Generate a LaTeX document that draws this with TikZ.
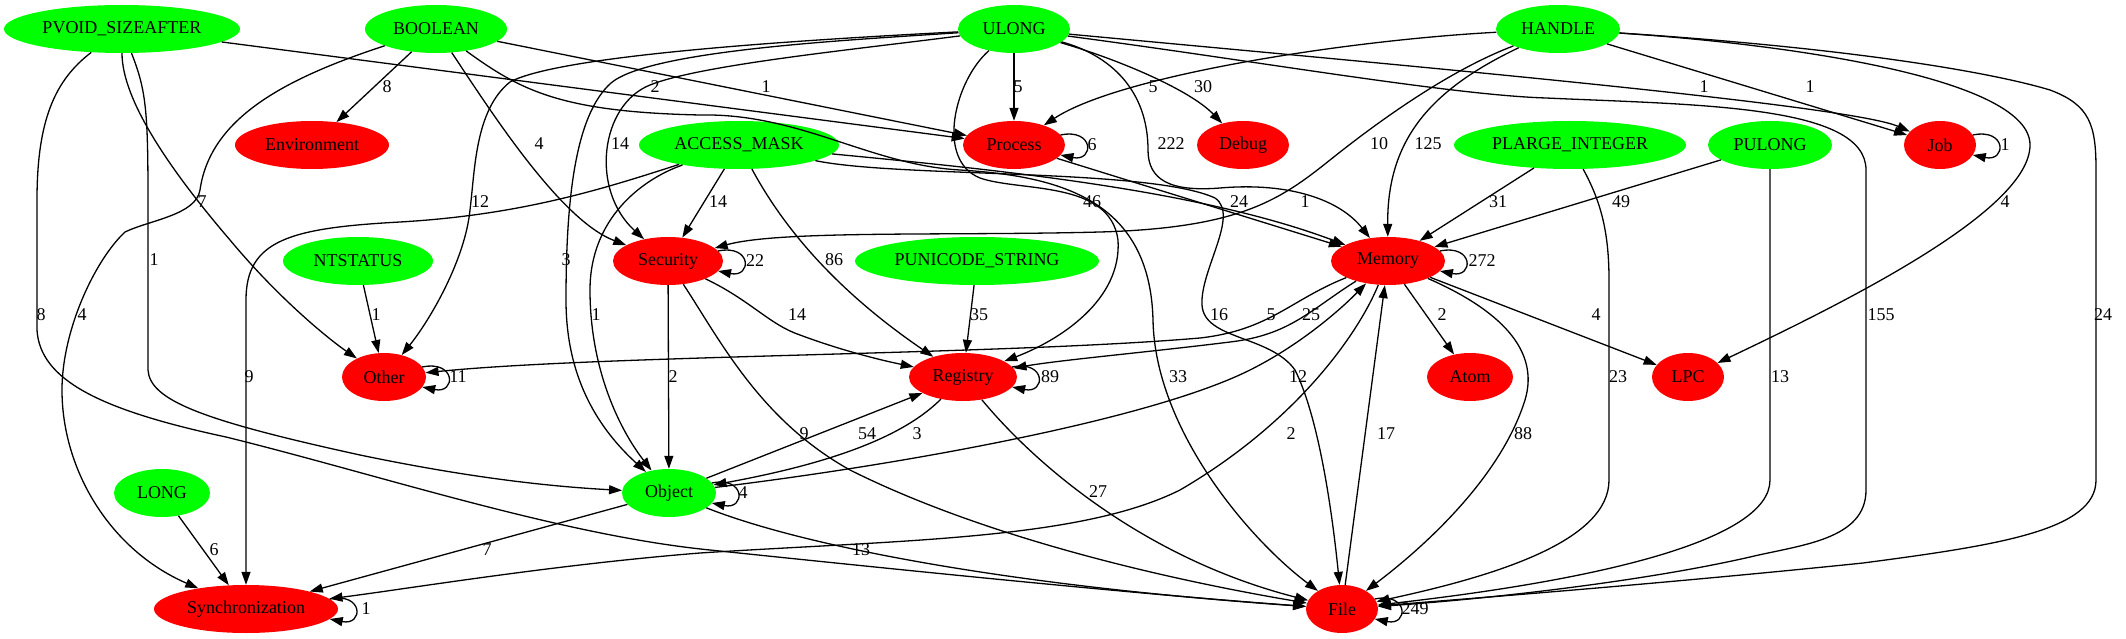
\documentclass[tikz,border=0pt]{standalone}
\usepackage{fontspec}
\setmainfont{Liberation Serif}
\usetikzlibrary{shapes.geometric,arrows.meta}
\definecolor{gcol}{RGB}{0,255,0}
\definecolor{rcol}{RGB}{255,0,0}
\newcommand{\myloop}[3]{% cx, cy, rx
  \draw[conn] ({#1+0.91*#3},{#2-10}) .. controls ({#1+0.91*#3+34},{#2-17}) and ({#1+0.91*#3+34},{#2+17}) .. ({#1+0.91*#3},{#2+10});}
\begin{document}
\begin{tikzpicture}[x=1pt,y=-1pt,
  tn/.style={ellipse, inner sep=0pt, minimum height=48pt, font=\fontsize{18}{21}\selectfont},
  gn/.style={tn, fill=gcol},
  rn/.style={tn, fill=rcol},
  conn/.style={line width=1.3pt, -{Triangle[length=13pt,width=9pt]}},
  lb/.style={inner sep=0pt, font=\fontsize{18}{21}\selectfont}]
\useasboundingbox (0,0) rectangle (2126,639);

% nodes
\node[gn, minimum width=236pt] (pv) at (122,29) {PVOID\_SIZEAFTER};
\node[gn, minimum width=142pt] (bo) at (436,29) {BOOLEAN};
\node[gn, minimum width=112pt] (ul) at (1014,29) {ULONG};
\node[gn, minimum width=124pt] (ha) at (1558,29) {HANDLE};
\node[rn, minimum width=154pt] (env) at (312,145) {Environment};
\node[gn, minimum width=200pt] (am) at (739,145) {ACCESS\_MASK};
\node[rn, minimum width=102pt] (pr) at (1014,145) {Process};
\node[rn, minimum width=92pt] (de) at (1243,145) {Debug};
\node[gn, minimum width=232pt] (pl) at (1570,145) {PLARGE\_INTEGER};
\node[gn, minimum width=124pt] (pu) at (1770,145) {PULONG};
\node[rn, minimum width=72pt] (job) at (1940,145) {Job};
\node[gn, minimum width=150pt] (nt) at (358,261) {NTSTATUS};
\node[rn, minimum width=110pt] (se) at (668,261) {Security};
\node[gn, minimum width=244pt] (pus) at (977,261) {PUNICODE\_STRING};
\node[rn, minimum width=114pt] (me) at (1388,261) {Memory};
\node[rn, minimum width=84pt] (ot) at (384,377) {Other};
\node[rn, minimum width=108pt] (re) at (963,377) {Registry};
\node[rn, minimum width=86pt] (atm) at (1470,377) {Atom};
\node[rn, minimum width=72pt] (lpc) at (1688,377) {LPC};
\node[gn, minimum width=96pt] (lo) at (162,493) {LONG};
\node[gn, minimum width=94pt] (ob) at (669,493) {Object};
\node[rn, minimum width=184pt] (sy) at (246,609) {Synchronization};
\node[rn, minimum width=72pt] (fi) at (1342,609) {File};

% BOOLEAN
\draw[conn] (bo) -- (env);
\draw[conn] (bo) .. controls (490,110) and (560,220) .. (se);
\draw[conn] (bo) -- (pr);
\draw[conn] (bo) .. controls (280,80) and (210,120) .. (200,190) .. controls (196,215) and (150,220) .. (125,232) .. controls (95,260) and (62,330) .. (62,390) .. controls (62,470) and (110,550) .. (sy);
\draw[conn] (bo) .. controls (520,90) and (560,112) .. (700,115) .. controls (800,113) and (870,165) .. (960,170) .. controls (1060,176) and (1150,200) .. (1153,320) .. controls (1155,430) and (1250,540) .. (fi);
% PVOID
\draw[conn] (pv) -- (pr);
\draw[conn] (pv) .. controls (122,100) and (170,170) .. (230,240) .. controls (280,300) and (330,340) .. (ot);
\draw[conn] (pv) .. controls (146,90) and (148,110) .. (148,200) -- (148,370) .. controls (150,400) and (200,420) .. (360,455) .. controls (480,480) and (560,487) .. (ob);
\draw[conn] (pv) .. controls (55,80) and (37,120) .. (37,200) -- (37,330) .. controls (40,380) and (100,410) .. (226,437) .. controls (380,475) and (560,535) .. (710,550) .. controls (950,575) and (1150,595) .. (fi);
% ULONG
\draw[conn] (ul) -- (pr);
\draw[conn] (ul) .. controls (1120,60) and (1190,90) .. (de);
\draw[conn] (ul) .. controls (1400,65) and (1850,105) .. (job);
\draw[conn] (ul) .. controls (1250,60) and (1450,95) .. (1546,98) .. controls (1700,105) and (1866,105) .. (1866,170) -- (1866,490) .. controls (1866,540) and (1800,545) .. (1750,557) .. controls (1650,580) and (1500,598) .. (fi);
\draw[conn] (ul) .. controls (1110,55) and (1148,90) .. (1148,150) .. controls (1148,180) and (1170,192) .. (1220,188) .. controls (1290,182) and (1340,200) .. (me);
\draw[conn] (ul) .. controls (955,80) and (935,160) .. (980,178) .. controls (1020,192) and (1110,180) .. (1118,240) .. controls (1122,300) and (1060,340) .. (re);
\draw[conn] (ul) .. controls (850,50) and (700,65) .. (650,85) .. controls (600,105) and (590,190) .. (se);
\draw[conn] (ul) .. controls (850,40) and (650,50) .. (611,83) .. controls (575,115) and (566,200) .. (566,300) .. controls (566,380) and (600,430) .. (ob);
\draw[conn] (ul) .. controls (800,40) and (560,55) .. (510,82) .. controls (475,110) and (475,170) .. (470,210) .. controls (465,260) and (430,320) .. (ot);
% HANDLE
\draw[conn] (ha) .. controls (1350,40) and (1120,75) .. (pr);
\draw[conn] (ha) .. controls (1450,70) and (1380,120) .. (1330,160) .. controls (1280,200) and (1240,228) .. (1100,232) .. controls (950,236) and (780,230) .. (se);
\draw[conn] (ha) .. controls (1430,90) and (1387,140) .. (me);
\draw[conn] (ha) -- (job);
\draw[conn] (ha) .. controls (1800,45) and (2030,80) .. (2030,145) .. controls (2030,210) and (1850,300) .. (lpc);
\draw[conn] (ha) .. controls (1850,48) and (1990,72) .. (2050,90) .. controls (2090,105) and (2096,125) .. (2096,170) -- (2096,480) .. controls (2096,530) and (2000,545) .. (1863,563) .. controls (1650,585) and (1450,600) .. (fi);
% ACCESS_MASK
\draw[conn] (am) -- (se);
\draw[conn] (am) .. controls (790,240) and (850,300) .. (re);
\draw[conn] (am) .. controls (640,180) and (590,220) .. (590,290) .. controls (590,370) and (620,430) .. (ob);
\draw[conn] (am) .. controls (600,190) and (520,215) .. (400,222) .. controls (290,228) and (246,240) .. (246,300) -- (sy);
\draw[conn] (am) .. controls (1000,170) and (1200,190) .. (me);
\draw[conn] (am) .. controls (900,178) and (1150,168) .. (1215,198) .. controls (1240,215) and (1200,270) .. (1202,305) .. controls (1204,340) and (1270,335) .. (1295,370) .. controls (1320,420) and (1333,520) .. (fi);
% PLARGE_INTEGER, PULONG
\draw[conn] (pl) -- (me);
\draw[conn] (pl) .. controls (1600,200) and (1609,230) .. (1609,280) -- (1609,480) .. controls (1609,540) and (1500,575) .. (fi);
\draw[conn] (pu) -- (me);
\draw[conn] (pu) -- (1770,480) .. controls (1770,540) and (1600,580) .. (fi);
% single ones
\draw[conn] (nt) -- (ot);
\draw[conn] (pus) -- (re);
\draw[conn] (lo) -- (sy);
% Security
\draw[conn] (se) -- (ob);
\draw[conn] (se) .. controls (750,300) and (770,325) .. (800,335) .. controls (840,350) and (880,360) .. (re);
\draw[conn] (se) .. controls (720,340) and (760,420) .. (850,470) .. controls (1000,545) and (1200,585) .. (fi);
% Object / Registry
\draw[conn] (ob) -- (re);
\draw[conn] (re) .. controls (910,430) and (850,460) .. (ob);
\draw[conn] (ob) .. controls (900,465) and (1150,420) .. (1250,370) .. controls (1300,345) and (1340,310) .. (me);
\draw[conn] (ob) -- (sy);
\draw[conn] (ob) .. controls (800,545) and (1000,585) .. (fi);
\draw[conn] (re) .. controls (1040,470) and (1150,560) .. (fi);
% Memory
\draw[conn] (me) .. controls (1290,300) and (1270,330) .. (1200,338) .. controls (1000,355) and (600,355) .. (ot);
\draw[conn] (me) .. controls (1310,310) and (1290,335) .. (1230,342) .. controls (1150,352) and (1060,360) .. (re);
\draw[conn] (me) -- (atm);
\draw[conn] (me) -- (lpc);
\draw[conn] (me) .. controls (1500,310) and (1540,350) .. (1525,400) .. controls (1500,480) and (1420,550) .. (fi);
\draw[conn] (me) .. controls (1360,330) and (1300,420) .. (1180,490) .. controls (1080,540) and (900,540) .. (700,553) .. controls (550,565) and (400,590) .. (sy);
\draw[conn] (pr) -- (me);
\draw[conn] (fi) -- (me);

% self loops
\myloop{1014}{145}{51}
\myloop{668}{261}{55}
\myloop{1388}{261}{57}
\myloop{1940}{145}{36}
\myloop{384}{377}{42}
\myloop{963}{377}{54}
\myloop{669}{493}{47}
\myloop{246}{609}{92}
\myloop{1342}{609}{36}

% labels
\node[lb] (l01) at (387,87) {8};
\node[lb] (l02) at (655,87) {2};
\node[lb] (l03) at (766,87) {1};
\node[lb] (l04) at (1018,87) {5};
\node[lb] (l05) at (1153,87) {5};
\node[lb] (l06) at (1203,87) {30};
\node[lb] (l07) at (1704,87) {1};
\node[lb] (l08) at (1810,87) {1};
\node[lb] (l09) at (202,202) {7};
\node[lb] (l10) at (480,202) {12};
\node[lb] (l11) at (539,144) {4};
\node[lb] (l12) at (620,144) {14};
\node[lb] (l13) at (1171,144) {222};
\node[lb] (l14) at (1379,144) {10};
\node[lb] (l15) at (1428,144) {125};
\node[lb] (l16) at (718,202) {14};
\node[lb] (l17) at (1092,202) {46};
\node[lb] (l18) at (1239,202) {24};
\node[lb] (l19) at (1305,202) {1};
\node[lb] (l20) at (1498,202) {31};
\node[lb] (l21) at (1621,202) {49};
\node[lb] (l22) at (2005,202) {4};
\node[lb] (l23) at (154,260) {1};
\node[lb] (l24) at (566,260) {3};
\node[lb] (l25) at (834,260) {86};
\node[lb] (l26) at (41,315) {8};
\node[lb] (l27) at (82,315) {4};
\node[lb] (l28) at (376,315) {1};
\node[lb] (l29) at (596,315) {1};
\node[lb] (l30) at (797,315) {14};
\node[lb] (l31) at (979,315) {35};
\node[lb] (l32) at (1219,315) {16};
\node[lb] (l33) at (1271,315) {5};
\node[lb] (l34) at (1311,315) {25};
\node[lb] (l35) at (1442,315) {2};
\node[lb] (l36) at (1596,315) {4};
\node[lb] (l37) at (1881,315) {155};
\node[lb] (l38) at (2103,315) {24};
\node[lb] (l39) at (249,377) {9};
\node[lb] (l40) at (673,377) {2};
\node[lb] (l41) at (1178,377) {33};
\node[lb] (l42) at (1298,377) {12};
\node[lb] (l43) at (1618,377) {23};
\node[lb] (l44) at (1780,377) {13};
\node[lb] (l45) at (804,434) {9};
\node[lb] (l46) at (867,434) {54};
\node[lb] (l47) at (917,434) {3};
\node[lb] (l48) at (1291,434) {2};
\node[lb] (l49) at (1386,434) {17};
\node[lb] (l50) at (1523,434) {88};
\node[lb] (l51) at (1098,492) {27};
\node[lb] (l52) at (214,550) {6};
\node[lb] (l53) at (487,550) {7};
\node[lb] (l54) at (861,550) {13};
% loop labels
\node[lb] (m01) at (1092,145) {6};
\node[lb] (m02) at (755,261) {22};
\node[lb] (m03) at (1482,261) {272};
\node[lb] (m04) at (2005,145) {1};
\node[lb] (m05) at (458,377) {11};
\node[lb] (m06) at (1050,377) {89};
\node[lb] (m07) at (743,493) {4};
\node[lb] (m08) at (366,609) {1};
\node[lb] (m09) at (1415,609) {249};
\end{tikzpicture}
\end{document}
